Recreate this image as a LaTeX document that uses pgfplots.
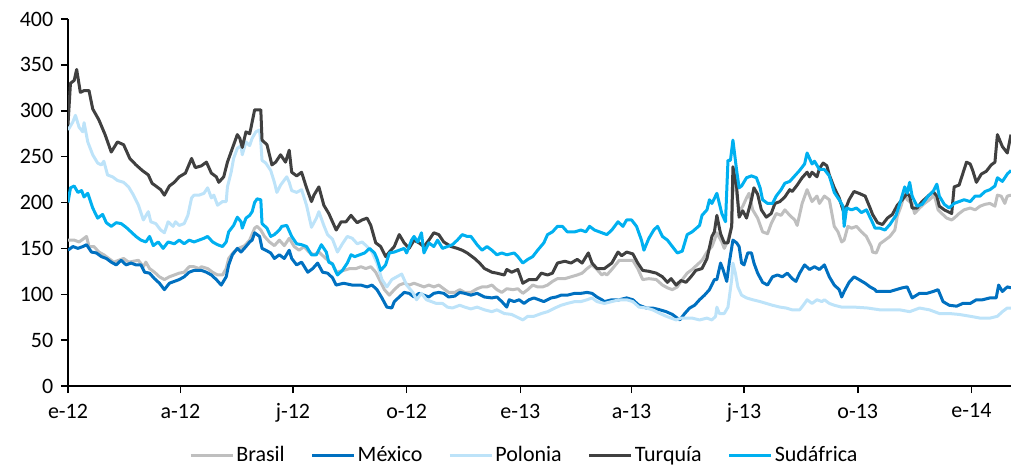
\documentclass[border=0pt]{standalone}
\usepackage{fontspec}
\setmainfont{Carlito}
\usepackage{pgfplots}
\pgfplotsset{compat=1.18}
\definecolor{cBra}{HTML}{BFBFBF}
\definecolor{cMex}{HTML}{0070C0}
\definecolor{cPol}{HTML}{BDE3F9}
\definecolor{cTur}{HTML}{404040}
\definecolor{cSud}{HTML}{00B0F0}
\begin{document}
\fontsize{11}{13}\selectfont
\begin{tikzpicture}
\useasboundingbox (-34pt,-40pt) rectangle (471.5pt,193pt);
\begin{axis}[
  at={(0,0)}, anchor=south west,
  scale only axis, width=471.5pt, height=183.5pt,
  xmin=0, xmax=763, ymin=0, ymax=400,
  axis x line*=bottom, axis y line*=left,
  axis line style={black, line width=0.75pt},
  xtick={0,91,182,274,366,456,547,639,731},
  xticklabels={e-12,a-12,j-12,o-12,e-13,a-13,j-13,o-13,e-14},
  ytick={0,50,...,400},
  tick align=outside, major tick length=3.5pt,
  tick style={black, line width=0.75pt},
  /pgf/number format/assume math mode=true,
  tick label style={font=\fontsize{11}{13}\selectfont},
  xticklabel style={yshift=-1.5pt},
  legend columns=5,
  legend style={draw=none, at={(axis description cs:0.484,-0.19)}, anchor=center,
    font=\fontsize{11}{13}\selectfont, nodes={inner sep=1pt},
    /tikz/every even column/.append style={column sep=12pt}},
  legend image code/.code={\draw[#1, line width=1.5pt] (0pt,0pt) -- (21pt,0pt);},
  every axis plot/.append style={line width=1.5pt, line join=round, no markers},
]
\addplot[cBra] coordinates {(0,159)(5,159)(9,157)(13,161)(15,163)(17,152)(21,152)(25,146)(29,143)(33,139)(37,135)(41,137)(45,139)(49,135)(57,137)(61,130)(63,135)(66,128)(70,124)(74,119)(78,116)(82,119)(86,121)(90,123)(94,124)(98,130)(102,130)(106,128)(108,130)(113,128)(117,124)(121,121)(125,121)(128,128)(130,139)(134,146)(138,150)(143,153)(147,159)(151,172)(153,174)(156,170)(159,163)(163,157)(167,153)(171,159)(175,153)(179,161)(183,152)(187,148)(191,152)(195,146)(199,143)(203,146)(207,141)(211,136)(214,133)(217,124)(223,126)(228,128)(233,128)(237,130)(241,128)(245,130)(249,124)(252,116)(256,105)(260,99)(264,105)(268,110)(272,112)(276,110)(280,112)(284,110)(288,108)(292,110)(296,108)(300,110)(304,106)(308,102)(313,102)(317,105)(321,102)(326,102)(331,106)(335,108)(339,108)(343,110)(347,105)(351,102)(355,106)(360,105)(364,106)(368,101)(372,105)(376,110)(380,108)(384,108)(388,110)(392,114)(396,117)(402,117)(407,119)(412,121)(416,123)(420,128)(424,132)(428,127)(432,121)(434,123)(436,121)(440,127)(446,137)(452,137)(457,137)(461,128)(465,116)(470,117)(476,116)(481,110)(485,107)(489,105)(493,108)(497,116)(501,123)(505,127)(509,132)(513,137)(517,146)(521,152)(523,159)(525,167)(529,157)(531,150)(534,159)(537,174)(538,225)(541,210)(543,190)(546,196)(549,205)(551,210)(554,192)(558,183)(562,168)(566,166)(569,177)(573,188)(577,186)(580,192)(584,186)(588,181)(590,175)(594,199)(598,214)(602,201)(606,207)(608,199)(612,207)(616,203)(620,174)(623,168)(626,157)(628,159)(631,174)(634,172)(638,174)(642,168)(646,163)(650,152)(651,146)(654,145)(657,155)(661,159)(665,163)(669,170)(671,185)(674,196)(677,210)(679,203)(683,199)(685,188)(689,194)(693,199)(697,203)(701,208)(704,192)(707,188)(711,183)(715,181)(717,183)(721,188)(725,192)(730,194)(734,192)(738,196)(742,198)(746,199)(750,196)(752,208)(755,207)(758,199)(760,207)(763,208)};
\addlegendentry{Brasil}
\addplot[cMex] coordinates {(0,148)(4,152)(8,150)(12,152)(15,154)(19,146)(23,145)(27,141)(31,139)(35,135)(39,132)(43,137)(47,132)(51,134)(55,132)(59,132)(62,124)(66,123)(70,117)(74,112)(78,105)(82,112)(86,114)(90,116)(94,119)(98,124)(102,126)(108,126)(112,124)(116,121)(120,116)(124,110)(128,119)(130,132)(133,143)(137,150)(140,146)(144,152)(147,157)(149,159)(151,167)(155,163)(157,150)(160,148)(164,145)(167,139)(171,143)(175,139)(179,148)(181,139)(185,132)(189,135)(194,124)(198,128)(202,134)(206,124)(210,123)(214,118)(217,110)(223,112)(230,110)(237,110)(242,108)(246,110)(250,105)(254,96)(258,86)(262,85)(264,92)(268,97)(272,102)(276,101)(280,97)(284,101)(288,99)(292,97)(296,101)(300,102)(304,101)(308,97)(313,98)(317,102)(321,101)(326,99)(331,101)(337,97)(343,96)(347,97)(351,92)(355,86)(357,94)(361,92)(365,94)(369,90)(373,94)(377,96)(381,94)(385,92)(391,96)(395,97)(399,99)(404,99)(410,101)(415,101)(420,102)(424,101)(428,97)(432,94)(434,92)(440,94)(446,94)(452,96)(457,94)(462,88)(468,85)(473,85)(479,83)(484,81)(489,78)(495,72)(499,79)(503,85)(507,88)(511,94)(515,99)(519,105)(523,116)(525,116)(528,134)(530,127)(533,114)(535,134)(538,159)(541,156)(543,152)(545,134)(547,132)(550,145)(553,145)(555,134)(558,123)(562,113)(566,110)(570,119)(574,121)(578,119)(582,123)(586,117)(589,114)(592,123)(596,132)(600,127)(604,130)(608,127)(612,132)(616,119)(620,110)(624,105)(626,97)(628,103)(632,113)(636,119)(640,116)(645,112)(649,108)(653,105)(654,103)(665,103)(670,105)(675,107)(679,108)(683,96)(689,101)(695,101)(700,103)(704,105)(708,92)(713,88)(719,87)(724,90)(730,90)(735,94)(740,94)(746,96)(751,96)(753,110)(756,103)(760,108)(763,107)};
\addlegendentry{México}
\addplot[cPol] coordinates {(0,279)(4,288)(6,295)(9,282)(12,277)(13,287)(16,266)(20,252)(24,243)(27,241)(29,245)(32,230)(36,228)(40,224)(45,222)(49,217)(53,208)(57,197)(61,181)(65,190)(67,179)(71,177)(75,170)(78,167)(81,179)(85,174)(87,179)(90,175)(94,177)(97,186)(100,205)(102,208)(106,208)(110,210)(113,216)(116,205)(118,208)(121,197)(125,201)(128,201)(129,217)(132,233)(134,248)(137,259)(140,262)(141,252)(144,266)(147,262)(149,270)(152,277)(155,279)(156,266)(157,246)(160,243)(164,235)(167,222)(169,211)(172,219)(177,228)(179,222)(181,213)(185,211)(189,214)(193,197)(197,173)(201,183)(203,190)(207,175)(210,165)(214,160)(218,146)(222,155)(226,163)(230,161)(234,155)(238,157)(242,152)(246,146)(250,134)(254,116)(258,108)(262,116)(266,119)(270,122)(274,110)(279,102)(282,94)(286,101)(290,94)(294,92)(298,90)(303,90)(307,86)(311,85)(317,88)(321,86)(326,84)(331,86)(337,83)(343,81)(347,83)(353,79)(359,78)(368,72)(372,76)(377,76)(383,79)(388,81)(394,85)(399,88)(404,90)(410,92)(415,92)(420,94)(424,96)(428,92)(434,90)(440,92)(446,94)(452,94)(457,92)(462,86)(468,85)(473,83)(479,79)(484,76)(488,74)(492,72)(496,74)(500,74)(505,74)(511,72)(517,74)(521,72)(524,76)(525,86)(527,79)(531,79)(534,86)(537,116)(538,134)(540,123)(542,108)(545,99)(549,96)(554,94)(560,92)(565,90)(570,88)(576,86)(581,85)(586,83)(592,83)(596,90)(598,94)(602,90)(606,94)(610,92)(612,94)(616,90)(620,88)(626,86)(636,86)(647,85)(657,83)(665,83)(673,83)(681,81)(689,85)(697,83)(705,79)(713,79)(721,78)(730,76)(738,74)(746,74)(752,76)(756,81)(760,85)(763,85)};
\addlegendentry{Polonia}
\addplot[cTur] coordinates {(0,285)(2,330)(5,333)(7,345)(10,320)(13,322)(17,322)(20,302)(25,290)(30,274)(35,255)(40,266)(45,263)(50,248)(55,241)(60,235)(65,230)(68,221)(70,219)(75,214)(78,208)(82,218)(86,222)(90,228)(95,232)(100,248)(103,238)(108,240)(112,244)(116,232)(120,228)(122,222)(126,228)(129,244)(133,259)(137,274)(139,270)(141,260)(144,277)(147,275)(148,281)(151,301)(156,301)(157,268)(161,263)(165,241)(168,244)(172,252)(176,244)(179,257)(181,233)(185,229)(189,233)(193,216)(197,201)(199,208)(203,217)(207,197)(211,188)(214,179)(217,170)(221,179)(225,179)(229,186)(232,181)(234,178)(238,181)(242,183)(245,175)(249,156)(253,152)(257,141)(260,146)(264,152)(268,165)(272,156)(276,150)(280,159)(284,156)(288,152)(292,159)(296,167)(300,165)(304,157)(310,152)(315,150)(319,148)(323,145)(329,139)(333,134)(337,128)(343,124)(347,123)(353,121)(355,127)(359,124)(364,127)(368,112)(373,116)(379,116)(383,123)(388,121)(392,123)(396,134)(402,136)(407,134)(412,138)(416,134)(421,145)(424,134)(428,128)(434,128)(440,134)(445,146)(448,142)(452,146)(457,144)(461,134)(465,126)(470,125)(476,123)(481,119)(485,113)(488,117)(492,110)(496,115)(500,113)(504,119)(508,126)(513,128)(517,139)(521,163)(523,168)(525,186)(528,166)(531,156)(534,156)(537,174)(538,239)(541,217)(543,184)(546,191)(549,183)(553,203)(555,216)(558,209)(561,192)(565,184)(569,188)(572,199)(576,201)(580,206)(584,214)(586,212)(590,219)(594,227)(598,233)(600,228)(602,233)(606,228)(608,237)(611,243)(614,240)(616,230)(620,216)(624,205)(627,192)(630,196)(632,203)(636,212)(640,210)(645,207)(649,194)(651,187)(655,178)(659,176)(663,183)(667,187)(671,197)(675,203)(679,210)(681,207)(683,194)(687,194)(691,201)(696,207)(700,212)(703,207)(705,196)(709,192)(715,188)(717,217)(721,219)(727,244)(730,242)(732,235)(735,222)(739,231)(743,234)(747,241)(750,244)(752,274)(756,261)(760,254)(763,274)};
\addlegendentry{Turquía}
\addplot[cSud] coordinates {(0,200)(2,216)(5,218)(8,211)(11,213)(13,206)(16,210)(20,194)(24,183)(28,187)(31,178)(35,174)(39,178)(43,177)(47,173)(51,168)(55,163)(59,159)(63,157)(66,163)(69,153)(73,157)(77,150)(81,157)(86,155)(90,159)(94,155)(98,159)(102,157)(106,159)(110,161)(113,163)(117,157)(121,154)(125,152)(128,157)(130,168)(134,175)(137,184)(140,179)(141,172)(144,183)(147,186)(149,190)(151,200)(153,204)(156,203)(157,177)(161,172)(164,163)(167,165)(171,170)(173,174)(177,175)(181,163)(185,155)(189,154)(193,152)(197,143)(201,143)(205,154)(209,146)(211,135)(214,133)(218,121)(222,126)(226,134)(229,143)(232,141)(236,143)(240,145)(244,150)(248,145)(250,139)(253,126)(257,132)(260,145)(264,146)(268,148)(272,150)(274,145)(278,159)(280,163)(283,157)(286,167)(288,145)(292,156)(296,152)(299,159)(303,150)(307,152)(311,154)(315,159)(319,165)(323,163)(326,163)(331,154)(335,148)(339,152)(343,148)(347,143)(351,145)(355,143)(361,145)(364,141)(368,134)(372,138)(376,141)(380,148)(385,156)(388,165)(392,168)(396,174)(400,174)(404,168)(410,168)(415,170)(419,168)(422,174)(426,170)(430,168)(436,165)(440,170)(445,179)(449,174)(452,181)(456,181)(460,174)(464,159)(466,148)(470,161)(474,170)(477,174)(481,163)(485,159)(489,152)(493,145)(497,147)(501,165)(505,168)(511,175)(513,186)(517,192)(519,203)(521,199)(525,210)(529,188)(532,179)(534,246)(536,246)(538,268)(541,235)(543,216)(545,218)(549,227)(553,229)(557,227)(560,216)(562,203)(566,199)(570,199)(573,207)(577,214)(580,221)(584,223)(588,229)(592,235)(596,242)(598,254)(602,242)(604,245)(608,236)(612,236)(616,229)(620,211)(624,203)(627,196)(628,174)(630,194)(634,192)(638,194)(642,189)(646,192)(650,181)(653,172)(657,172)(661,170)(665,176)(670,186)(674,203)(677,217)(679,210)(681,222)(683,207)(687,196)(691,198)(696,207)(700,212)(703,220)(705,207)(709,198)(713,194)(717,199)(721,201)(725,203)(730,201)(734,207)(738,207)(742,212)(746,214)(750,218)(752,227)(756,223)(760,231)(763,235)};
\addlegendentry{Sudáfrica}
\end{axis}
\end{tikzpicture}
\end{document}
